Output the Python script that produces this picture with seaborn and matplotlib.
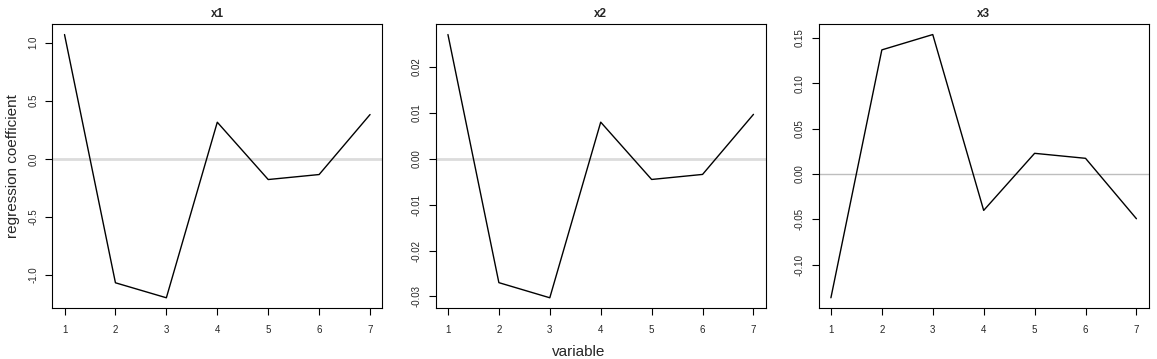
import numpy as np
import pandas as pd
import matplotlib
matplotlib.use("Agg")
import matplotlib.pyplot as plt
import seaborn as sns

# -----------------------------------
# data
# -----------------------------------
variables = [1, 2, 3, 4, 5, 6, 7]
coef_x1 = [1.069, -1.066, -1.195, 0.315, -0.178, -0.135, 0.381]
coef_x2 = [0.0271, -0.0270, -0.0303, 0.0080, -0.0045, -0.0034, 0.0097]
coef_x3 = [-0.1364, 0.1368, 0.1537, -0.0401, 0.0228, 0.0173, -0.0493]
panel_titles = ["x1", "x2", "x3"]

y_ticks = [
    [-1.0, -0.5, 0.0, 0.5, 1.0],
    [-0.03, -0.02, -0.01, 0.00, 0.01, 0.02],
    [-0.10, -0.05, 0.00, 0.05, 0.10, 0.15],
]
y_fmt = ["{:.1f}", "{:.2f}", "{:.2f}"]

df = pd.DataFrame({
    "variable": variables * 3,
    "coef": coef_x1 + coef_x2 + coef_x3,
    "panel": [t for t in panel_titles for _ in variables],
})

# -----------------------------------
# plot
# -----------------------------------
sns.set_style("white")
plt.rcParams["font.family"] = ["Liberation Sans", "DejaVu Sans"]

fig = plt.figure(figsize=(11.57, 3.59), dpi=100)
lefts = [0.0452, 0.3766, 0.7076]
zero_style = [("#dcdcdc", 2.0), ("#dcdcdc", 2.0), ("#bebebe", 1.0)]

for i, name in enumerate(panel_titles):
    ax = fig.add_axes([lefts[i], 0.1412, 0.2852, 0.7919])
    sub = df[df["panel"] == name]
    ax.axhline(0, color=zero_style[i][0], lw=zero_style[i][1], zorder=1)
    sns.lineplot(data=sub, x="variable", y="coef", ax=ax, color="black",
                 lw=1.0, zorder=2)
    vals = sub["coef"].values
    rng = vals.max() - vals.min()
    ax.set_ylim(vals.min() - 0.04 * rng, vals.max() + 0.04 * rng)
    ax.set_xlim(1 - 0.04 * 6, 7 + 0.04 * 6)
    ax.set_xticks(variables)
    ax.set_xticklabels([str(v) for v in variables], fontsize=7)
    ax.set_yticks(y_ticks[i])
    ax.set_yticklabels([y_fmt[i].format(t) for t in y_ticks[i]],
                       fontsize=7, rotation=90, va="center")
    ax.tick_params(axis="x", direction="out", length=5, width=0.8,
                   color="black", pad=7, bottom=True)
    ax.tick_params(axis="y", direction="out", length=5, width=0.8,
                   color="black", pad=5, left=True)
    for s in ax.spines.values():
        s.set_color("black")
        s.set_linewidth(0.8)
    ax.set_title(name, fontsize=8.5, fontweight="bold", pad=5)
    ax.set_xlabel("")
    if i == 0:
        ax.set_ylabel("regression coefficient", fontsize=11, labelpad=6)
    else:
        ax.set_ylabel("")

fig.text(0.5, 0.02, "variable", ha="center", va="center", fontsize=11)

fig.savefig("out.png", dpi=100)
